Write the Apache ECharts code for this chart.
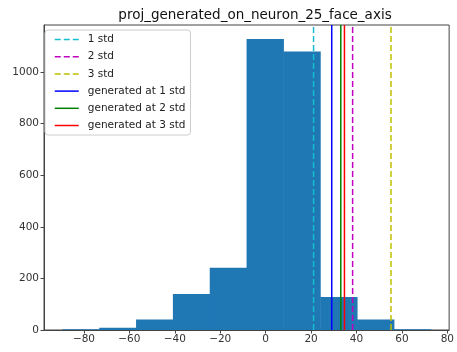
<!DOCTYPE html>
<html><head><meta charset="utf-8">
<script src="https://cdn.jsdelivr.net/npm/echarts@6/dist/echarts.min.js"></script>
<style>html,body{margin:0;padding:0;background:#fff}#c{width:457px;height:352px}</style>
</head><body><div id="c"></div>
<script>
const binEdges = [-89.5, -73.28, -57.06, -40.84, -24.62, -8.4, 7.82, 24.04, 40.26, 56.48, 72.7];
const counts = [3, 9, 41, 140, 241, 1129, 1080, 128, 41, 3];
const xTicks = [-80, -60, -40, -20, 0, 20, 40, 60, 80];
const yTicks = [0, 200, 400, 600, 800, 1000];
const lineNames = ['1 std', '2 std', '3 std', 'generated at 1 std', 'generated at 2 std', 'generated at 3 std'];
const lineX = [21.1, 38.3, 55.2, 29.1, 33.1, 34.7];
const lineColors = ['#17becf', '#bf00bf', '#bfbf00', '#0000ff', '#008000', '#ff0000'];
const lineTypes = ['dashed', 'dashed', 'dashed', 'solid', 'solid', 'solid'];
const xMin = -97.6, xMax = 80.8, yMax = 1183;

const histData = counts.map((c, i) => [binEdges[i], binEdges[i + 1], c]);
const font = 'DejaVu Sans';
const series = [{
  type: 'custom',
  renderItem: function (params, api) {
    const p0 = api.coord([api.value(0), 0]);
    const p1 = api.coord([api.value(1), api.value(2)]);
    return {type: 'rect', shape: {x: p0[0], y: p1[1], width: p1[0] - p0[0] + 0.5, height: p0[1] - p1[1]},
      style: {fill: '#1f77b4'}};
  },
  encode: {x: [0, 1], y: 2},
  data: histData,
  z: 1
}];
lineNames.forEach((n, i) => {
  series.push({
    type: 'line', name: n, symbol: 'none', silent: true,
    data: [[lineX[i], 0], [lineX[i], yMax]],
    lineStyle: {color: lineColors[i], width: 1.5, type: lineTypes[i]},
    itemStyle: {color: lineColors[i]},
    z: 3
  });
});
const chart = echarts.init(document.getElementById('c'), null, {renderer: 'canvas'});
chart.setOption({
  animation: false,
  title: {text: 'proj_generated_on_neuron_25_face_axis', left: 250, textAlign: 'center', top: 3,
    textStyle: {fontFamily: font, fontSize: 13.5, fontWeight: 'normal', color: '#111'}},
  grid: {left: 44, right: 4, top: 25, bottom: 22, show: true, borderColor: '#444', borderWidth: 1, backgroundColor: 'transparent'},
  legend: {
    orient: 'vertical', left: 45, top: 30, data: lineNames,
    itemWidth: 24, itemHeight: 10, itemGap: 6.2,
    padding: [4, 5, 4, 9], borderColor: '#ccc', borderWidth: 1, borderRadius: 3, backgroundColor: '#fff',
    textStyle: {fontFamily: font, fontSize: 10.5, color: '#222', padding: [0, 0, 0, 4]},
    itemStyle: {opacity: 0},
    lineStyle: {width: 1.5}
  },
  xAxis: {
    type: 'value', min: xMin, max: xMax, splitLine: {show: false},
    axisLine: {show: true, onZero: false, lineStyle: {color: '#444'}},
    axisTick: {show: true, length: 3.5, customValues: xTicks, lineStyle: {color: '#444'}},
    axisLabel: {customValues: xTicks, fontFamily: font, fontSize: 10.5, color: '#333', margin: 4,
      formatter: v => (v < 0 ? '\u2212' + (-v) : '' + v)}
  },
  yAxis: {
    type: 'value', min: 0, max: yMax, splitLine: {show: false},
    axisLine: {show: true, onZero: false, lineStyle: {color: '#444'}},
    axisTick: {show: true, length: 3.5, customValues: yTicks, lineStyle: {color: '#444'}},
    axisLabel: {customValues: yTicks, fontFamily: font, fontSize: 10.5, color: '#333', margin: 5,
      formatter: v => '' + v}
  },
  series: series
});
</script></body></html>
